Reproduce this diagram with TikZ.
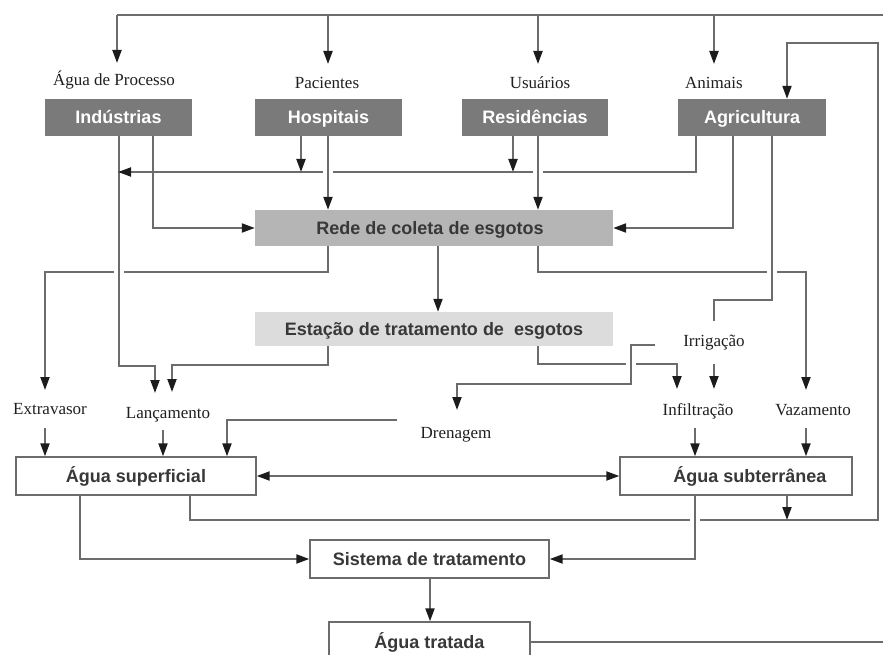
\documentclass[tikz,border=0pt]{standalone}
\usepackage{fontspec}
\setmainfont{Liberation Serif}
\setsansfont{Liberation Sans}
\usetikzlibrary{arrows.meta}
\pgfdeclarelayer{bg}
\pgfsetlayers{bg,main}
\definecolor{gdark}{HTML}{7A7A7A}
\definecolor{gmid}{HTML}{B5B5B5}
\definecolor{glight}{HTML}{DCDCDC}
\definecolor{lnc}{HTML}{6C6C6C}
\definecolor{tipc}{HTML}{1C1C1C}
\definecolor{txt}{HTML}{383838}
\begin{document}
\begin{tikzpicture}[x=1pt,y=-1pt,
  ln/.style={draw=lnc, line width=2pt},
  arr/.style={ln, -{Triangle[length=13pt,width=9pt,color=tipc]}},
  dbl/.style={ln, {Triangle[length=13pt,width=9pt,color=tipc]}-{Triangle[length=13pt,width=9pt,color=tipc]}},
  halo/.style={preaction={draw=white,line width=10pt,-}},
  boxtext/.style={font=\sffamily\bfseries\fontsize{18}{21}\selectfont, inner sep=0pt, text height=13pt, text depth=0pt},
  dbox/.style={boxtext, fill=gdark, text=white, minimum height=37pt},
  mbox/.style={boxtext, fill=gmid, text=txt},
  lbox/.style={boxtext, fill=glight, text=txt},
  wbox/.style={boxtext, draw=lnc, line width=1.4pt, fill=white, text=txt, minimum height=38pt},
  lab/.style={font=\fontsize{17}{20}\selectfont, inner sep=0pt, text height=12pt, text depth=4pt, text=black!88}
]
\useasboundingbox (0,0) rectangle (883,655);
\clip (0,0) rectangle (883,655);

% lanes
\path (45,0) coordinate (v45) (80,0) coordinate (v80) (153,0) coordinate (v153)
      (163,0) coordinate (v163) (190,0) coordinate (v190) (227,0) coordinate (v227)
      (301,0) coordinate (v301) (328,0) coordinate (v328) (430,0) coordinate (v430)
      (438,0) coordinate (v438) (513,0) coordinate (v513) (538,0) coordinate (v538)
      (695,0) coordinate (v695) (696,0) coordinate (v696) (733,0) coordinate (v733)
      (772,0) coordinate (v772) (787,0) coordinate (v787) (806,0) coordinate (v806)
      (883,0) coordinate (v883);

% boxes
\node[dbox, minimum width=147pt] (ind) at (118.5,117.5) {Indústrias};
\node[dbox, minimum width=147pt] (hos) at (328.5,117.5) {Hospitais};
\node[dbox, minimum width=146pt] (res) at (535,117.5) {Residências};
\node[dbox, minimum width=148pt] (agr) at (752,117.5) {Agricultura};
\node[mbox, minimum width=358pt, minimum height=36pt] (rede) at (434,228) {Rede de coleta de esgotos\hspace*{8pt}};
\node[lbox, minimum width=358pt, minimum height=34pt] (eta) at (434,329) {Estação de tratamento de\ \ esgotos};
\node[wbox, minimum width=240pt] (asup) at (136,476) {Água superficial};
\node[wbox, minimum width=232pt] (asub) at (736,476) {\hspace*{28pt}Água subterrânea};
\node[wbox, minimum width=239pt] (sis) at (429.5,559) {Sistema de tratamento};
\node[wbox, minimum width=201pt, minimum height=40pt] (atr) at (429.5,642) {Água tratada};

% labels
\node[lab] (lagua) at (114,82) {Água de Processo};
\node[lab] (lpac) at (327,85) {Pacientes};
\node[lab] (lusu) at (540,85) {Usuários};
\node[lab] (lani) at (714,85) {Animais};
\node[lab] (lext) at (50,410) {Extravasor};
\node[lab] (llan) at (168,414) {Lançamento};
\node[lab] (ldre) at (456,434) {Drenagem};
\node[lab] (lirr) at (714,342) {Irrigação};
\node[lab] (linf) at (698,411) {Infiltração};
\node[lab] (lvaz) at (813,411) {Vazamento};

\begin{pgfonlayer}{bg}
% top supply line
\draw[ln] (883,15) -- (117,15);
\draw[arr] (117,15) -- (117,63);
\draw[arr] (328,15) -- (328,64);
\draw[arr] (538,15) -- (538,64);
\draw[arr] (714,15) -- (714,64);
% horizontal lines that get crossed
\draw[arr] (rede.south -| v328) |- (45,272) -- (45,390);
\draw[arr] (rede.south -| v538) |- (806,272) -- (806,390);
\draw[arr] (eta.south -| v538) |- (677,364) -- (677,389);
\draw[arr] (eta.south -| v328) |- (172,365) -- (172,392);
\draw[arr] (asup.south -| v190) |- (878,520) |- (787,43) -- (agr.north -| v787);
% crossing lines
\draw[arr,halo] (ind.south) |- (155,366) -- (155,393);
\draw[arr] (agr.south -| v696) |- (118,172);
\draw[arr,halo] (hos.south -| v328) -- (rede.north -| v328);
\draw[arr,halo] (res.south -| v538) -- (rede.north -| v538);
\draw[ln,halo] (agr.south -| v772) |- (714,300) -- (714,321);
\draw[arr,halo] (655,345) -| (631,384) -| (457,410);
\draw[arr,halo] (asub.south -| v695) |- (sis.east);
% other connectors
\draw[arr] (hos.south -| v301) -- (301,172);
\draw[arr] (res.south -| v513) -- (513,172);
\draw[arr] (ind.south -| v153) |- (rede.west);
\draw[arr] (agr.south -| v733) |- (rede.east);
\draw[arr] (rede.south -| v438) -- (eta.north -| v438);
\draw[arr] (714,364) -- (714,389);
\draw[arr] (397,420) -| (asup.north -| v227);
\draw[arr] (45,428) -- (asup.north -| v45);
\draw[arr] (163,430) -- (asup.north -| v163);
\draw[arr] (695,428) -- (asub.north -| v695);
\draw[arr] (806,428) -- (asub.north -| v806);
\draw[dbl] (asup.east) -- (asub.west);
\draw[arr] (asup.south -| v80) |- (sis.west);
\draw[arr] (asub.south -| v787) -- (787,520);
\draw[arr] (sis.south -| v430) -- (atr.north -| v430);
\draw[ln] (atr.east) -- (atr.east -| v883);
\end{pgfonlayer}
\end{tikzpicture}
\end{document}
